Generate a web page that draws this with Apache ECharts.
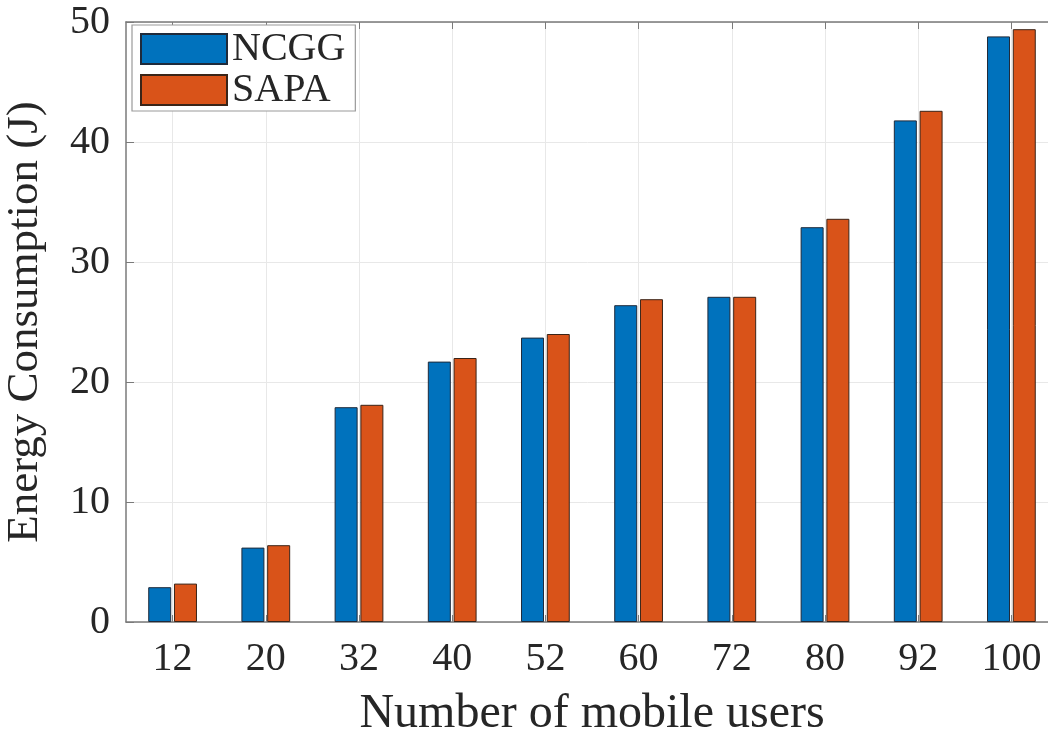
<!DOCTYPE html>
<html>
<head>
<meta charset="utf-8">
<script src="https://cdn.jsdelivr.net/npm/echarts@6/dist/echarts.min.js"></script>
<style>
  html, body { margin: 0; padding: 0; background: #ffffff; }
  #chart { width: 1048px; height: 729px; }
</style>
</head>
<body>
<div id="chart"></div>
<script>
// Number of mobile users on the x axis
const users = ['12', '20', '32', '40', '52', '60', '72', '80', '92', '100'];
// Energy consumption (J) per scheme
const ncgg = [2.9, 6.2, 17.9, 21.7, 23.7, 26.4, 27.1, 32.9, 41.8, 48.8];
const sapa = [3.2, 6.4, 18.1, 22.0, 24.0, 26.9, 27.1, 33.6, 42.6, 49.4];
const yTicks = { min: 0, max: 50, interval: 10 };

const serif = '"Liberation Serif", "Times New Roman", serif';
const ink = '#262626';
const axisGrey = '#7a7a7a';

const chart = echarts.init(document.getElementById('chart'), null, { renderer: 'canvas' });

chart.setOption({
  backgroundColor: '#ffffff',
  animation: false,
  textStyle: { fontFamily: serif },
  grid: {
    left: 126, top: 22, bottom: 107, right: -10,
    containLabel: false,
    outerBoundsMode: 'none'
  },
  legend: {
    orient: 'vertical',
    left: 132,
    top: 25,
    itemWidth: 86,
    itemHeight: 30,
    itemGap: 1,
    padding: [4, 10, 1, 8],
    borderColor: '#9a9a9a',
    borderWidth: 1.2,
    backgroundColor: '#ffffff',
    icon: 'rect',
    textStyle: { fontFamily: serif, fontSize: 40, color: ink },
    data: ['NCGG', 'SAPA']
  },
  xAxis: [
    {
      type: 'category',
      data: users,
      name: 'Number of mobile users',
      nameLocation: 'middle',
      nameGap: 68,
      nameTextStyle: { fontFamily: serif, fontSize: 48, color: ink },
      axisLine: { show: true, lineStyle: { color: axisGrey, width: 1.5 } },
      axisTick: { show: true, inside: true, alignWithLabel: true, length: 7, lineStyle: { color: axisGrey } },
      axisLabel: { fontFamily: serif, fontSize: 40, color: ink, margin: 17 },
      splitLine: { show: true, alignWithLabel: true, lineStyle: { color: '#e8e8e8', width: 1 } }
    },
    {
      type: 'category',
      data: users,
      position: 'top',
      axisLine: { show: true, lineStyle: { color: axisGrey, width: 1.5 } },
      axisTick: { show: true, inside: true, alignWithLabel: true, length: 7, lineStyle: { color: axisGrey } },
      axisLabel: { show: false },
      splitLine: { show: false }
    }
  ],
  yAxis: [
    {
      type: 'value',
      min: yTicks.min,
      max: yTicks.max,
      interval: yTicks.interval,
      name: 'Energy Consumption (J)',
      nameLocation: 'middle',
      nameRotate: 90,
      nameGap: 78,
      nameTextStyle: { fontFamily: serif, fontSize: 45, color: ink },
      axisLine: { show: true, lineStyle: { color: axisGrey, width: 1.5 } },
      axisTick: { show: true, inside: true, length: 8, lineStyle: { color: axisGrey } },
      axisLabel: { fontFamily: serif, fontSize: 40, color: ink, margin: 16 },
      splitLine: { show: true, lineStyle: { color: '#e8e8e8', width: 1 } }
    }
  ],
  series: [
    {
      name: 'NCGG',
      type: 'bar',
      data: ncgg,
      barWidth: 23,
      barGap: '12%',
      itemStyle: { color: '#0072BD', borderColor: '#1f2a3a', borderWidth: 1 }
    },
    {
      name: 'SAPA',
      type: 'bar',
      data: sapa,
      barWidth: 23,
      barGap: '12%',
      itemStyle: { color: '#D95319', borderColor: '#3a2418', borderWidth: 1 }
    }
  ]
});
</script>
</body>
</html>
